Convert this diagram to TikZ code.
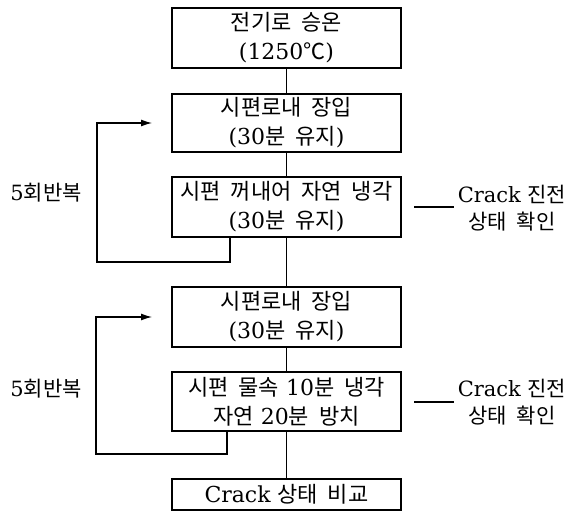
\documentclass[tikz,border=0pt]{standalone}
\usepackage{fontspec}
\setmainfont{DejaVu Serif}
\newfontfamily\kr{Noto Sans CJK KR}[WordSpace=2]
\usetikzlibrary{arrows.meta}
\newcommand{\K}[1]{{\kr #1}}
\tikzset{
  stepbox/.style={draw, line width=1.3pt, minimum width=229pt, align=center,
    inner sep=0pt, font=\fontsize{22}{29}\selectfont},
  conn/.style={line width=1.2pt},
  loopline/.style={line width=1.2pt, -{Latex[length=11pt,width=7pt]}},
  sidelabel/.style={align=center, font=\fontsize{21}{27}\selectfont},
}
\begin{document}
\begin{tikzpicture}[x=1pt,y=-1pt]
\useasboundingbox (0,0) rectangle (578,513);
\node[stepbox, minimum height=60pt] (b1) at (286.5,38) {\K{전기로 승온}\\(1250\K{℃})};
\node[stepbox, minimum height=58pt] (b2) at (286.5,123) {\K{시편로내 장입}\\(30\K{분 유지})};
\node[stepbox, minimum height=60pt] (b3) at (286.5,207) {\K{시편 꺼내어 자연 냉각}\\(30\K{분 유지})};
\node[stepbox, minimum height=60pt] (b4) at (286.5,317) {\K{시편로내 장입}\\(30\K{분 유지})};
\node[stepbox, minimum height=59pt] (b5) at (286.5,401.5) {\K{시편 물속} 10\K{분 냉각}\\\K{자연} 20\K{분 방치}};
\node[stepbox, minimum height=31pt] (b6) at (286.5,494.5) {Crack \K{상태 비교}};

\draw[conn] (b1) -- (b2);
\draw[conn] (b2) -- (b3);
\draw[conn] (b3) -- (b4);
\draw[conn] (b4) -- (b5);
\draw[conn] (b5) -- (b6);

% loops
\coordinate (l1s) at (230,237);
\coordinate (l1e) at (152,123);
\draw[loopline] (l1s) -- (230,262) -- (97,262) -- (97,123) -- (l1e);
\coordinate (l2s) at (227,431);
\coordinate (l2e) at (152,317);
\draw[loopline] (l2s) -- (227,454) -- (96,454) -- (96,317) -- (l2e);

\node[sidelabel] (r1) at (46,193) {5\K{회반복}};
\node[sidelabel] (r2) at (46,389) {5\K{회반복}};

% side notes
\node[sidelabel] (c1) at (512,208) {Crack \K{진전}\\\K{상태 확인}};
\node[sidelabel] (c2) at (512,402) {Crack \K{진전}\\\K{상태 확인}};
\coordinate (d1) at (414,207);
\coordinate (d2) at (414,402);
\draw[conn] (d1) -- (c1.west |- d1);
\draw[conn] (d2) -- (c2.west |- d2);
\end{tikzpicture}
\end{document}
